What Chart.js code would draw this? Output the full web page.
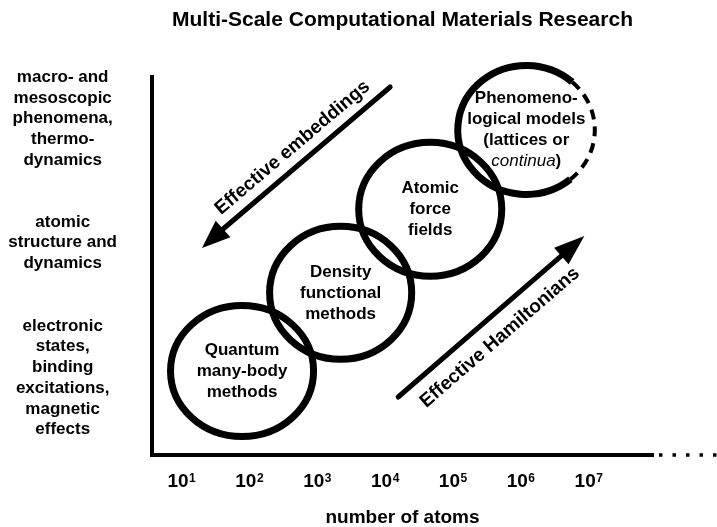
<!DOCTYPE html>
<html>
<head>
<meta charset="utf-8">
<script src="https://cdn.jsdelivr.net/npm/chart.js@4.4.0/dist/chart.umd.min.js"></script>
<style>
  html, body { margin: 0; padding: 0; background: #fff; }
  #wrap { width: 717px; height: 527px; }
</style>
</head>
<body>
<div id="wrap"><canvas id="diagramChart"></canvas></div>
<script>
// ===== Data =====
// x axis: log10(number of atoms)
const exponents = [1, 2, 3, 4, 5, 6, 7];

// y axis: physical level described (arbitrary 0..10 scale)
const levelValues = [8.9, 5.62, 2.04];
const levelLabels = [
  ['macro- and', 'mesoscopic', 'phenomena,', 'thermo-', 'dynamics'],
  ['atomic', 'structure and', 'dynamics'],
  ['electronic', 'states,', 'binding', 'excitations,', 'magnetic', 'effects']
];

// method regimes (ellipses): centre + half extent in data units
const methodNames = [
  ['Quantum', 'many-body', 'methods'],
  ['Density', 'functional', 'methods'],
  ['Atomic', 'force', 'fields'],
  ['Phenomeno-', 'logical models', '(lattices or', 'continua)']
];
const methodLogN      = [1.944, 3.397, 4.717, 6.133];
const methodLevel     = [2.22, 4.29, 6.50, 8.60];
const methodSpanLogN  = [1.054, 1.047, 1.054, 1.01];
const methodSpanLevel = [1.733, 1.759, 1.772, 1.706];
const italicWords = ['continua'];

// arrows
const arrowNames = ['Effective embeddings', 'Effective Hamiltonians'];
const arrowTail = [{ x: 4.127, y: 9.735 }, { x: 4.245, y: 1.534 }];
const arrowNeck = [{ x: 1.664, y: 5.979 }, { x: 6.649, y: 5.265 }];
const arrowTip  = [{ x: 1.354, y: 5.476 }, { x: 6.988, y: 5.794 }];

// ===== Styles =====
const FONT = "'Liberation Sans', Arial, Helvetica, sans-serif";
Chart.defaults.font.family = FONT;
Chart.defaults.color = '#000';

const rad = d => d * Math.PI / 180;

// ===== Drawing plugin =====
const diagramPlugin = {
  id: 'diagram',
  afterDatasetsDraw(chart) {
    const { ctx, scales: { x, y } } = chart;
    ctx.save();
    ctx.strokeStyle = '#000';
    ctx.fillStyle = '#000';

    // ellipses
    methodNames.forEach((lines, i) => {
      const cx = x.getPixelForValue(methodLogN[i]);
      const cy = y.getPixelForValue(methodLevel[i]);
      const rx = x.getPixelForValue(methodLogN[i] + methodSpanLogN[i]) - cx;
      const ry = cy - y.getPixelForValue(methodLevel[i] + methodSpanLevel[i]);
      const last = i === methodNames.length - 1;
      ctx.setLineDash([]);
      ctx.lineWidth = 7;
      ctx.beginPath();
      if (last) {
        ctx.ellipse(cx, cy, rx, ry, 0, rad(50), rad(312));
      } else {
        ctx.ellipse(cx, cy, rx, ry, 0, 0, Math.PI * 2);
      }
      ctx.stroke();
      if (last) {
        // open-ended side of the continuum models
        ctx.lineWidth = 4;
        ctx.setLineDash([10, 7]);
        ctx.beginPath();
        ctx.ellipse(cx, cy, rx, ry, 0, rad(-48), rad(50));
        ctx.stroke();
        ctx.setLineDash([]);
      }

      // labels inside
      const lh = 21;
      ctx.textBaseline = 'middle';
      lines.forEach((line, j) => {
        const ty = cy + (j - (lines.length - 1) / 2) * lh;
        const it = italicWords.find(w => line.startsWith(w));
        if (it) {
          const rest = line.slice(it.length);
          ctx.font = `italic 17px ${FONT}`;
          const w1 = ctx.measureText(it).width;
          ctx.font = `bold 17px ${FONT}`;
          const w2 = ctx.measureText(rest).width;
          const x0 = cx - (w1 + w2) / 2;
          ctx.textAlign = 'left';
          ctx.font = `italic 17px ${FONT}`;
          ctx.fillText(it, x0, ty);
          ctx.font = `bold 17px ${FONT}`;
          ctx.fillText(rest, x0 + w1, ty);
        } else {
          ctx.font = `bold 17px ${FONT}`;
          ctx.textAlign = 'center';
          ctx.fillText(line, cx, ty);
        }
      });
    });

    // arrow heads + arrow labels
    const textOffset = [{ along: -4, up: 17 }, { along: 8, up: -21.5 }];
    arrowNames.forEach((name, i) => {
      const T = { x: x.getPixelForValue(arrowTail[i].x), y: y.getPixelForValue(arrowTail[i].y) };
      const N = { x: x.getPixelForValue(arrowNeck[i].x), y: y.getPixelForValue(arrowNeck[i].y) };
      const P = { x: x.getPixelForValue(arrowTip[i].x), y: y.getPixelForValue(arrowTip[i].y) };
      const len = Math.hypot(P.x - N.x, P.y - N.y);
      const ux = (P.x - N.x) / len, uy = (P.y - N.y) / len;
      const hw = 11;
      ctx.beginPath();
      ctx.moveTo(P.x, P.y);
      ctx.lineTo(N.x - uy * hw, N.y + ux * hw);
      ctx.lineTo(N.x + uy * hw, N.y - ux * hw);
      ctx.closePath();
      ctx.fill();

      const a = T.x < N.x ? T : N, b = T.x < N.x ? N : T;
      const ang = Math.atan2(b.y - a.y, b.x - a.x);
      const mx = (T.x + N.x) / 2, my = (T.y + N.y) / 2;
      const o = textOffset[i];
      const tx = mx + Math.cos(ang) * o.along + Math.sin(ang) * o.up;
      const ty = my + Math.sin(ang) * o.along - Math.cos(ang) * o.up;
      ctx.save();
      ctx.translate(tx, ty);
      ctx.rotate(ang);
      ctx.font = `bold 19px ${FONT}`;
      ctx.textAlign = 'center';
      ctx.textBaseline = 'middle';
      ctx.fillText(name, 0, 0);
      ctx.restore();
    });
    ctx.restore();
  },
  afterDraw(chart) {
    const { ctx, chartArea, scales: { x } } = chart;
    ctx.save();
    // superscript exponents of the x tick labels
    ctx.font = `bold 19px ${FONT}`;
    const w10 = ctx.measureText('10').width;
    ctx.font = `bold 12px ${FONT}`;
    ctx.textAlign = 'left';
    ctx.textBaseline = 'alphabetic';
    ctx.fillStyle = '#000';
    exponents.forEach(e => {
      const px = x.getPixelForValue(e);
      ctx.fillText(String(e), px + w10 / 2 + 0.5, chartArea.bottom + 27);
    });
    // dotted continuation of the atom axis
    ctx.strokeStyle = '#000';
    ctx.lineWidth = 3.5;
    ctx.setLineDash([3.5, 10]);
    ctx.beginPath();
    ctx.moveTo(chartArea.right + 6, chartArea.bottom);
    ctx.lineTo(chart.width, chartArea.bottom);
    ctx.stroke();
    ctx.restore();
  }
};

// ===== Chart =====
const arrowDatasets = arrowNames.map((name, i) => ({
  label: name,
  data: [arrowTail[i], arrowNeck[i]],
  showLine: true,
  borderColor: '#000',
  borderWidth: 5,
  borderCapStyle: 'round',
  pointRadius: 0,
  fill: false
}));

new Chart(document.getElementById('diagramChart'), {
  type: 'scatter',
  data: { datasets: arrowDatasets },
  plugins: [diagramPlugin],
  options: {
    responsive: true, maintainAspectRatio: false, animation: false, events: [],
    layout: { padding: { left: 0, right: 64, top: 0, bottom: 0 } },
    plugins: {
      legend: { display: false },
      tooltip: { enabled: false },
      title: {
        display: true, fullSize: false,
        text: 'Multi-Scale Computational Materials Research',
        color: '#000',
        font: { size: 21, weight: 'bold', lineHeight: 1.2 },
        padding: { top: 8, bottom: 43.8 }
      }
    },
    scales: {
      x: {
        type: 'linear', min: 0.617, max: 8.0,
        afterBuildTicks: s => { s.ticks = exponents.map(v => ({ value: v })); },
        afterFit: s => { s.height = 72; s.paddingLeft = 0; s.paddingRight = 0; },
        grid: { display: false, drawTicks: false },
        border: { display: true, color: '#000', width: 4 },
        ticks: {
          callback: () => '10', color: '#000', autoSkip: false, maxRotation: 0,
          font: { size: 19, weight: 'bold' }, padding: 15
        },
        title: {
          display: true, text: 'number of atoms', color: '#000',
          font: { size: 19, weight: 'bold', lineHeight: 1 }, padding: { top: 0, bottom: 0 }
        }
      },
      y: {
        type: 'linear', min: 0, max: 10,
        afterBuildTicks: s => { s.ticks = levelValues.map(v => ({ value: v })); },
        afterFit: s => { s.width = 152; s.paddingTop = 0; s.paddingBottom = 0; },
        grid: { display: false, drawTicks: false },
        border: { display: true, color: '#000', width: 4 },
        ticks: {
          callback: (v, i) => levelLabels[i], color: '#000', autoSkip: false,
          crossAlign: 'center', padding: 35,
          font: { size: 17, weight: 'bold', lineHeight: 1.22 }
        }
      }
    }
  }
});
</script>
</body>
</html>
